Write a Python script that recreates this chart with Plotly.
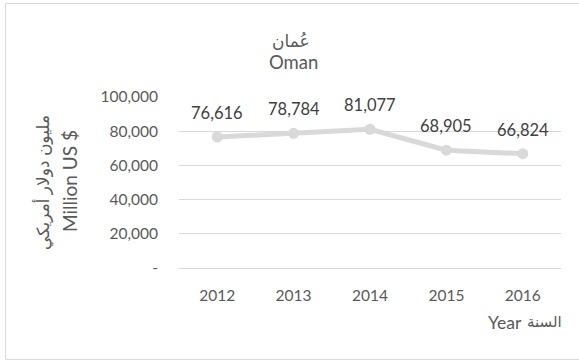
import plotly.graph_objects as go

years = ["2012", "2013", "2014", "2015", "2016"]
gdp_million_usd = [76616, 78784, 81077, 68905, 66824]
y_ticks = [0, 20000, 40000, 60000, 80000, 100000]
y_tick_labels = ["-", "20,000", "40,000", "60,000", "80,000", "100,000"]

W, H = 579, 362
L, R, T, B = 179, 18, 97, 94

FONT = "Lato, 'DejaVu Sans', sans-serif"
LINE_GRAY = "#d9d9d9"
TEXT_GRAY = "#595959"

fig = go.Figure()
fig.add_trace(go.Scatter(
    x=years,
    y=gdp_million_usd,
    mode="lines+markers",
    line=dict(color=LINE_GRAY, width=5),
    marker=dict(color=LINE_GRAY, size=11),
    cliponaxis=False,
    hoverinfo="skip",
))

pw = W - L - R
ph = H - T - B


def px_x(x):
    return (x - L) / pw


def px_y(y):
    return (H - B - y) / ph


# value labels sit above each point (category axis: x given by index)
value_labels = [
    dict(x=i, y=v, xref="x", yref="y", text=f"{v:,}", showarrow=False,
         yshift=24, xanchor="center", yanchor="middle",
         font=dict(family=FONT, size=16.5, color="#404040"))
    for i, v in enumerate(gdp_million_usd)
]

text_labels = [
    dict(text="عُمان", xref="paper", yref="paper",
         x=px_x(291), y=px_y(40), showarrow=False,
         font=dict(family=FONT, size=17, color=TEXT_GRAY),
         xanchor="center", yanchor="middle"),
    dict(text="Oman", xref="paper", yref="paper",
         x=px_x(293), y=px_y(62), showarrow=False,
         font=dict(family=FONT, size=18.5, color=TEXT_GRAY),
         xanchor="center", yanchor="middle"),
    dict(text="مليون دولار أمريكي", xref="paper", yref="paper",
         x=px_x(43), y=px_y(183), showarrow=False, textangle=-90,
         font=dict(family=FONT, size=17, color=TEXT_GRAY),
         xanchor="center", yanchor="middle"),
    dict(text="Million US $", xref="paper", yref="paper",
         x=px_x(69), y=px_y(181), showarrow=False, textangle=-90,
         font=dict(family=FONT, size=19, color=TEXT_GRAY),
         xanchor="center", yanchor="middle"),
    dict(text="Year", xref="paper", yref="paper",
         x=px_x(505), y=px_y(322), showarrow=False,
         font=dict(family=FONT, size=17.5, color=TEXT_GRAY),
         xanchor="center", yanchor="middle"),
    dict(text="السنة", xref="paper", yref="paper",
         x=px_x(544), y=px_y(321), showarrow=False,
         font=dict(family=FONT, size=15, color=TEXT_GRAY),
         xanchor="center", yanchor="middle"),
]

fig.update_layout(
    width=W,
    height=H,
    margin=dict(l=L, r=R, t=T, b=B),
    paper_bgcolor="white",
    plot_bgcolor="white",
    showlegend=False,
    font=dict(family=FONT, color=TEXT_GRAY, size=15.5),
    xaxis=dict(
        type="category",
        range=[-0.5, 4.5],
        showgrid=False,
        showline=True,
        linecolor=LINE_GRAY,
        linewidth=1,
        ticks="",
        tickfont=dict(family=FONT, size=15.5, color=TEXT_GRAY),
        ticklabelstandoff=13,
        fixedrange=True,
    ),
    yaxis=dict(
        range=[0, 100000],
        tickvals=y_ticks,
        ticktext=y_tick_labels,
        showgrid=True,
        gridcolor=LINE_GRAY,
        gridwidth=1,
        zeroline=False,
        showline=False,
        ticks="",
        tickfont=dict(family=FONT, size=15.5, color=TEXT_GRAY),
        ticklabelstandoff=20,
        fixedrange=True,
    ),
    shapes=[
        dict(type="rect", xref="paper", yref="paper",
             x0=px_x(5.5), x1=px_x(590), y0=px_y(3.5), y1=px_y(359.5),
             line=dict(color="#d9d9d9", width=1), fillcolor="rgba(0,0,0,0)",
             layer="below"),
    ],
    annotations=value_labels + text_labels,
)

fig.write_html("out.html")
